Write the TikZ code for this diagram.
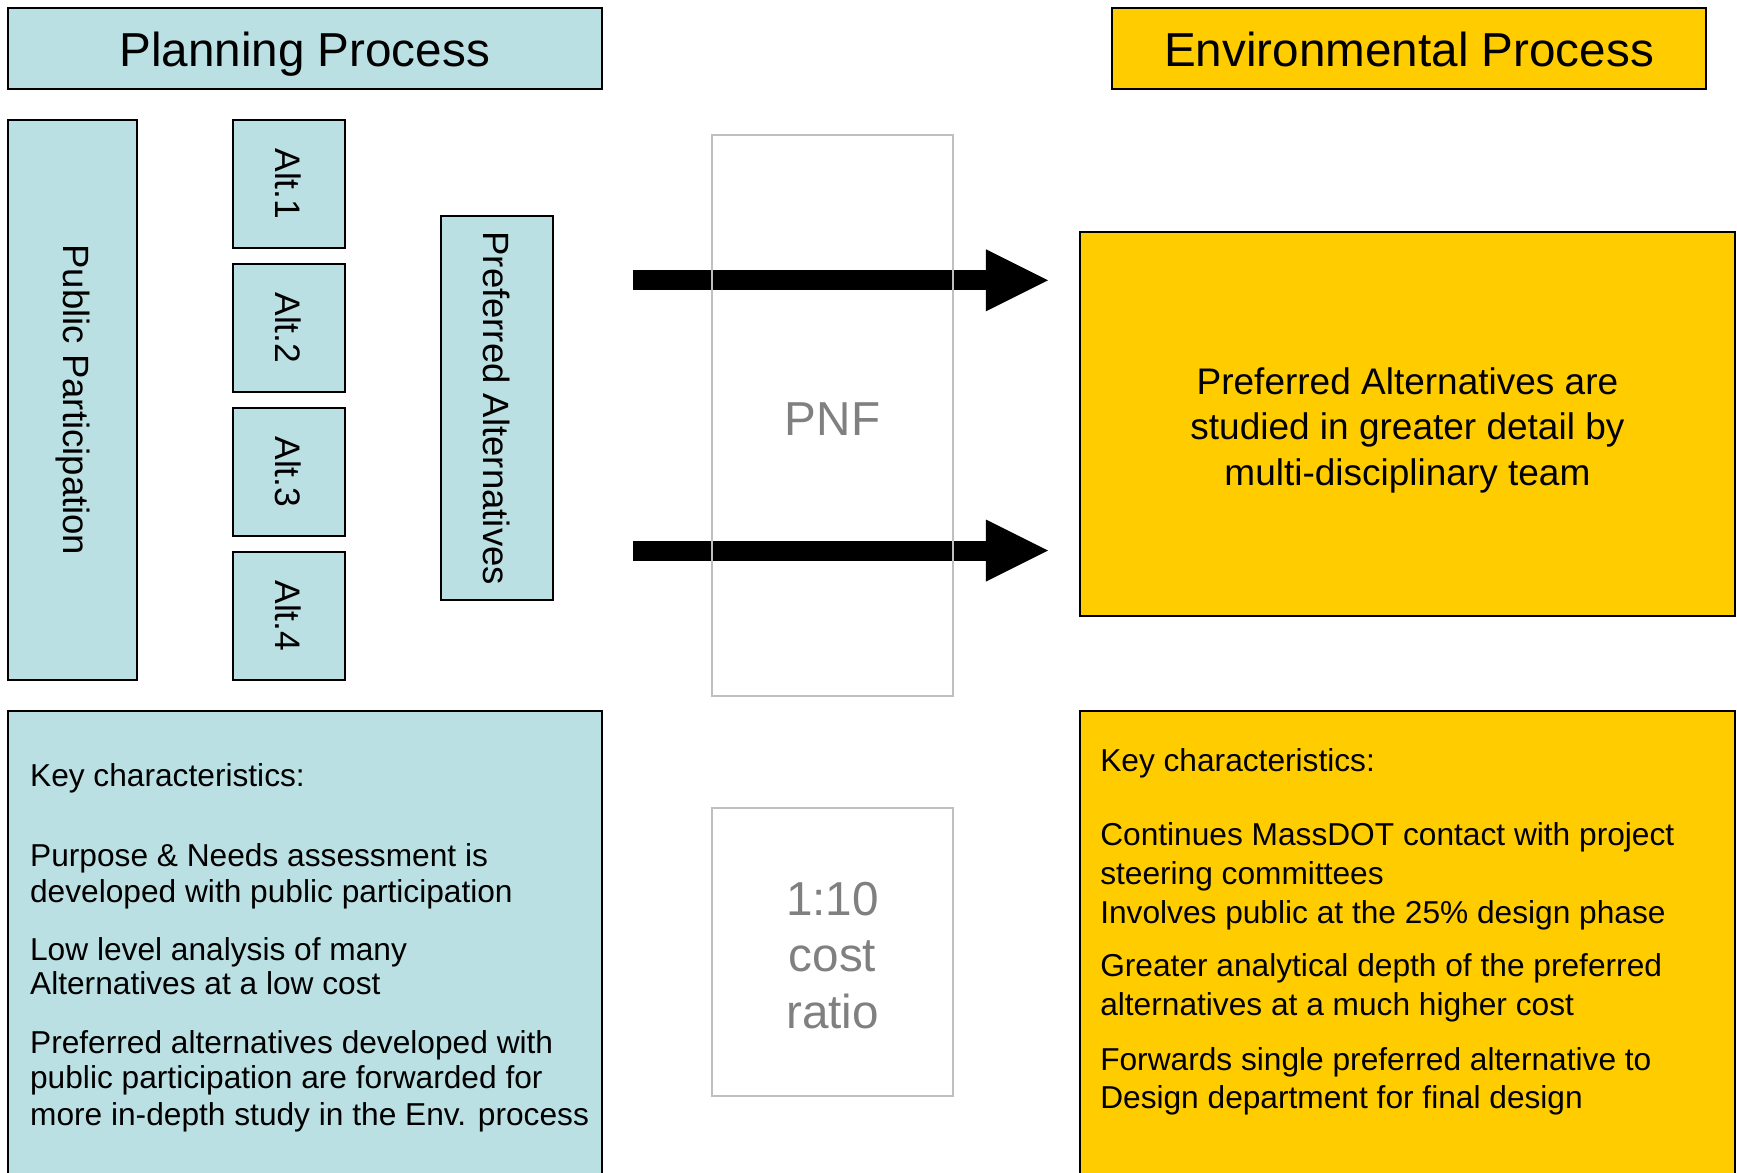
\documentclass[tikz,border=0pt]{standalone}
\usepackage{fontspec}
\setmainfont{Liberation Sans}
\usetikzlibrary{arrows.meta}
\definecolor{planblue}{HTML}{BBE0E3}
\definecolor{envyellow}{HTML}{FFCC00}
\definecolor{pnfgray}{HTML}{BFBFBF}
\definecolor{pnftext}{HTML}{808080}
\begin{document}
\begin{tikzpicture}[x=1pt,y=-1pt,
  planbox/.style={draw=black, line width=1.8pt, fill=planblue, inner sep=0pt},
  envbox/.style={draw=black, line width=1.8pt, fill=envyellow, inner sep=0pt},
  graybox/.style={draw=pnfgray, line width=1.8pt, inner sep=0pt, text=pnftext},
  bigarrow/.style={line width=18pt, -{Triangle[length=56pt,width=56pt,line width=0pt]}},
  titlefont/.style={font=\fontsize{43}{50}\selectfont, text height=42.7pt, text depth=9.1pt},
  pnffont/.style={font=\fontsize{43}{50}\selectfont, text height=45.9pt, text depth=9.1pt},
  vertfont/.style={font=\fontsize{33}{40}\selectfont},
  altfont/.style={font=\fontsize{32}{38}\selectfont},
  keytext/.style={anchor=base west, inner sep=0pt, font=\fontsize{28.6}{33}\selectfont},
]
\useasboundingbox (0,0) rectangle (1568,1058);
\clip (0,0) rectangle (1568,1058);

% titles
\node[planbox, titlefont, minimum width=536pt, minimum height=73pt] (plan) at (275,43.5) {Planning Process};
\node[envbox, titlefont, minimum width=536pt, minimum height=73pt] (env) at (1272,43.5) {Environmental Process};

% planning column
\node[planbox, vertfont, rotate=-90, minimum width=506pt, minimum height=117pt] (pub) at (65.5,361) {Public Participation};
\node[planbox, altfont, rotate=-90, minimum width=116pt, minimum height=101pt] (alt1) at (260.5,166) {Alt.1};
\node[planbox, altfont, rotate=-90, minimum width=116pt, minimum height=101pt] (alt2) at (260.5,296) {Alt.2};
\node[planbox, altfont, rotate=-90, minimum width=116pt, minimum height=101pt] (alt3) at (260.5,426) {Alt.3};
\node[planbox, altfont, rotate=-90, minimum width=116pt, minimum height=101pt] (alt4) at (260.5,556) {Alt.4};
\node[planbox, vertfont, rotate=-90, minimum width=347pt, minimum height=101pt] (pref) at (448.5,368.5) {Preferred Alternatives};

% arrows
\coordinate (a1s) at (571,253);
\coordinate (a1e) at (946,253);
\coordinate (a2s) at (571,497);
\coordinate (a2e) at (946,497);
\draw[bigarrow] (a1s) -- (a1e);
\draw[bigarrow] (a2s) -- (a2e);

% PNF and cost ratio
\node[graybox, pnffont, minimum width=217pt, minimum height=506pt] (pnf) at (751.5,375) {PNF};
\node[graybox, minimum width=217pt, minimum height=260pt] (cost) at (751.5,859) {};
\node[text=pnftext, font=\fontsize{43}{51}\selectfont, align=center, inner sep=0pt] (costtext) at (751.5,862.5) {1:10\\cost\\ratio};

% environmental big box
\node[envbox, minimum width=591pt, minimum height=347pt] (envbig) at (1270.5,382.5) {};
\node[font=\fontsize{33.4}{41}\selectfont, align=center, inner sep=0pt] (envtext) at (1270.5,388.5) {Preferred Alternatives are\\studied in greater detail by\\multi-disciplinary team};

% key characteristic boxes
\node[planbox, minimum width=536pt, minimum height=433pt] (keyplan) at (275,858.5) {};
\node[envbox, minimum width=591pt, minimum height=433pt] (keyenv) at (1270.5,858.5) {};

% left texts
\node[keytext] (l1) at (27,710) {Key characteristics:};
\node[keytext] (l2) at (27,782) {Purpose \& Needs assessment is};
\node[keytext] (l3) at (27,815) {developed with public participation};
\node[keytext] (l4) at (27,867) {Low level analysis of many};
\node[keytext] (l5) at (27,898) {Alternatives at a low cost};
\node[keytext] (l6) at (27,951) {Preferred alternatives developed with};
\node[keytext] (l7) at (27,983) {public participation are forwarded for};
\node[keytext] (l8) at (27,1016) {more in-depth study in the Env. process};

% right texts
\node[keytext] (r1) at (993,696.5) {Key characteristics:};
\node[keytext] (r2) at (993,763.5) {Continues MassDOT contact with project};
\node[keytext] (r3) at (993,798.5) {steering committees};
\node[keytext] (r4) at (993,833.5) {Involves public at the 25\% design phase};
\node[keytext] (r5) at (993,881.5) {Greater analytical depth of the preferred};
\node[keytext] (r6) at (993,916.5) {alternatives at a much higher cost};
\node[keytext] (r7) at (993,966.5) {Forwards single preferred alternative to};
\node[keytext] (r8) at (993,1000.5) {Design department for final design};
\end{tikzpicture}
\end{document}
